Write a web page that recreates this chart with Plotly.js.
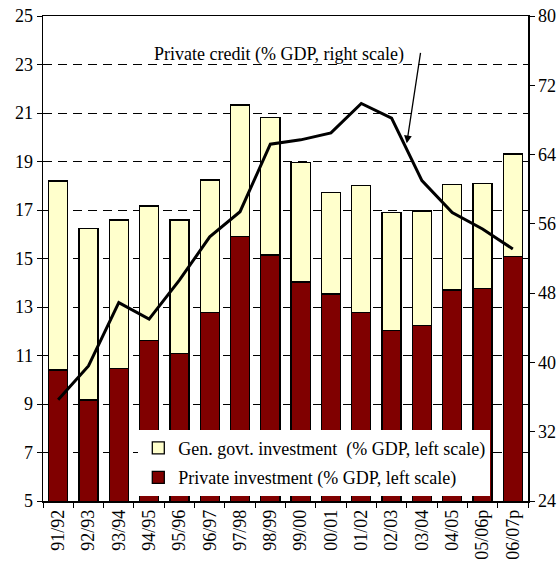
<!DOCTYPE html>
<html>
<head>
<meta charset="utf-8">
<script src="https://cdn.plot.ly/plotly-3.0.1.min.js"></script>
<style>html,body{margin:0;padding:0;background:#fff;}#chart{width:560px;height:565px;}</style>
</head>
<body>
<div id="chart"></div>
<script>
const years = ["91/92","92/93","93/94","94/95","95/96","96/97","97/98","98/99","99/00","00/01","01/02","02/03","03/04","04/05","05/06p","06/07p"];
const privateInvestment = [10.4, 9.16, 10.46, 11.61, 11.09, 12.77, 15.9, 15.14, 14.03, 13.54, 12.78, 12.02, 12.23, 13.7, 13.77, 15.07];
const totalInvestment = [18.2, 16.25, 16.59, 17.16, 16.59, 18.24, 21.33, 20.82, 18.95, 17.73, 18.0, 16.9, 16.96, 18.06, 18.1, 19.31];
const govtInvestment = totalInvestment.map((t, i) => +(t - privateInvestment[i]).toFixed(2));
const privateCredit = [35.7, 39.6, 46.9, 45.0, 49.5, 54.5, 57.4, 65.2, 65.7, 66.5, 69.9, 68.2, 61.0, 57.3, 55.4, 53.1];

const serif = "Liberation Serif";

const traces = [
  {
    type: "bar", x: years, y: privateInvestment,
    name: "Private investment (% GDP, left scale)",
    legendgroup: "b", legendrank: 2,
    marker: {color: "#800000", line: {color: "#000", width: 1.3}},
    hoverinfo: "skip"
  },
  {
    type: "bar", x: years, y: govtInvestment,
    name: "Gen. govt. investment  (% GDP, left scale)",
    legendgroup: "a", legendrank: 1,
    marker: {color: "#FFFFCC", line: {color: "#000", width: 1.3}},
    hoverinfo: "skip"
  },
  {
    type: "scatter", mode: "lines", x: years, y: privateCredit, yaxis: "y2",
    line: {color: "#000", width: 3},
    showlegend: false, hoverinfo: "skip"
  }
];

const layout = {
  width: 560, height: 565,
  margin: {l: 43, r: 32, t: 16, b: 64},
  paper_bgcolor: "#fff", plot_bgcolor: "#fff",
  barmode: "stack", bargap: 0.37,
  font: {family: serif, size: 18, color: "#000"},
  showlegend: true,
  legend: {
    x: 0.1965, y: 0.147, xanchor: "left", yanchor: "top",
    bgcolor: "#fff", borderwidth: 0,
    traceorder: "grouped", tracegroupgap: 3,
    font: {family: serif, size: 18, color: "#000"}
  },
  xaxis: {
    type: "category", range: [-0.5, 15.5],
    tickangle: -90, tickson: "boundaries",
    ticks: "outside", ticklen: 5, tickcolor: "#000",
    showline: true, linecolor: "#000", linewidth: 1.5, mirror: true,
    showgrid: false, tickfont: {family: serif, size: 18}
  },
  yaxis: {
    range: [5, 25], dtick: 2, tick0: 5,
    ticks: "outside", ticklen: 5, tickcolor: "#000",
    showline: true, linecolor: "#000", linewidth: 1.5,
    showgrid: true, gridcolor: "#000", gridwidth: 1, griddash: "9px,6px",
    zeroline: false, tickfont: {family: serif, size: 18}
  },
  yaxis2: {
    overlaying: "y", side: "right", range: [24, 80], dtick: 8, tick0: 24,
    ticks: "outside", ticklen: 5, tickcolor: "#000",
    showline: true, linecolor: "#000", linewidth: 1.5,
    showgrid: false, zeroline: false, tickfont: {family: serif, size: 18}
  },
  annotations: [
    {
      xref: "paper", yref: "paper", x: 0.486, y: 0.946,
      text: "Private credit (% GDP, right scale)", showarrow: false,
      font: {family: serif, size: 18, color: "#000"}
    },
    {
      xref: "paper", yref: "paper", x: 0.75, y: 0.7375,
      text: "", showarrow: true, ax: 14, ay: -92,
      arrowhead: 2, arrowsize: 1.2, arrowwidth: 1.3, arrowcolor: "#000"
    }
  ]
};

Plotly.newPlot("chart", traces, layout, {displayModeBar: false, staticPlot: true});
</script>
</body>
</html>
